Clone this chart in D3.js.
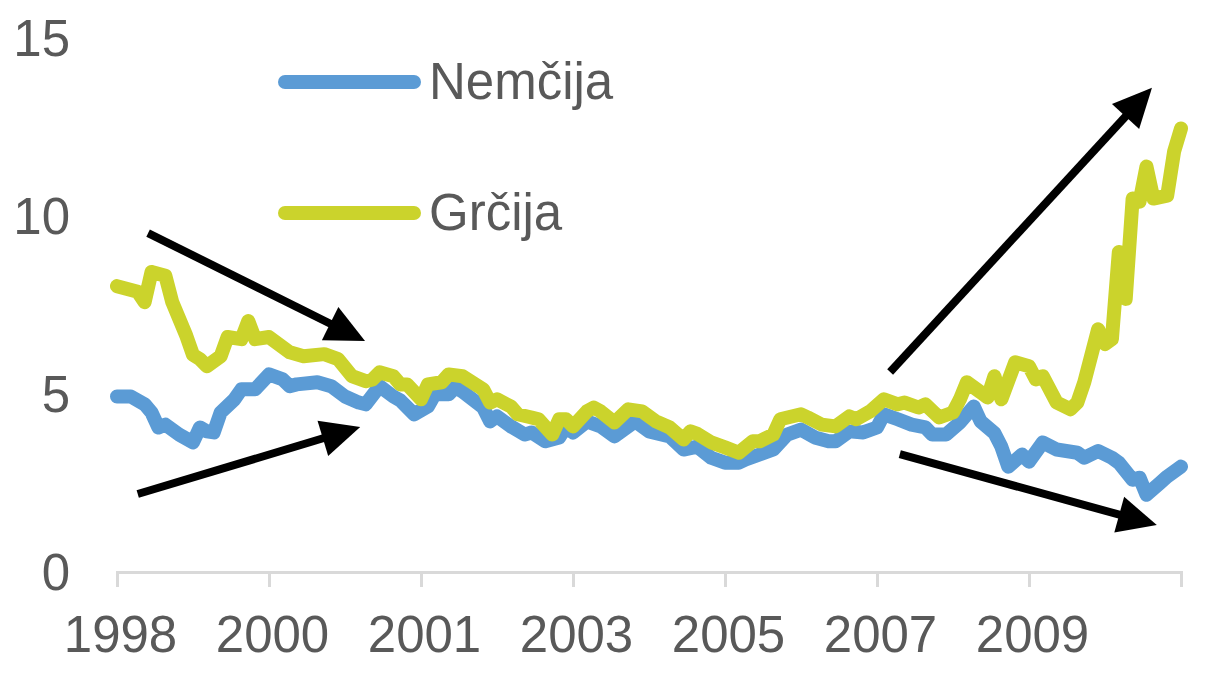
<!DOCTYPE html>
<html>
<head>
<meta charset="utf-8">
<script src="https://cdn.jsdelivr.net/npm/d3@7"></script>
<style>
  html, body { margin: 0; padding: 0; background: #fff; }
  svg { display: block; font-family: "Liberation Sans", Arial, sans-serif; }
</style>
</head>
<body>
<div id="chart"></div>
<script>
// x axis: month index (0 .. 154), labels every 22 months
let xTicks = [0, 22, 44, 66, 88, 110, 132, 154];
let xTickLabels = ["1998", "2000", "2001", "2003", "2005", "2007", "2009", ""];
let yTicks = [0, 5, 10, 15];

// [month, value]
let nemcija = [[0,4.93],[2,4.93],[4,4.71],[5,4.48],[6,4.06],[7,4.14],[9,3.86],[11,3.64],[12,4.06],[13,3.95],[14,3.92],[15,4.48],[17,4.85],[18,5.13],[20,5.13],[22,5.55],[24,5.41],[25,5.22],[26,5.27],[29,5.33],[31,5.22],[33,4.93],[35,4.76],[36,4.71],[38,5.22],[40,4.93],[41,4.82],[43,4.43],[45,4.65],[46,4.99],[48,4.99],[49,5.19],[50,5.07],[53,4.62],[54,4.23],[55,4.37],[57,4.09],[59,3.86],[60,3.92],[62,3.67],[64,3.78],[65,4.09],[66,3.92],[68,4.23],[70,4.09],[72,3.81],[75,4.23],[77,3.95],[80,3.81],[82,3.44],[84,3.52],[86,3.21],[88,3.07],[90,3.07],[91,3.16],[93,3.3],[95,3.44],[97,3.86],[99,4.0],[101,3.78],[103,3.67],[104,3.67],[106,3.95],[108,3.92],[110,4.06],[111,4.43],[113,4.29],[115,4.14],[117,4.06],[118,3.86],[120,3.86],[122,4.2],[124,4.65],[125,4.23],[127,3.9],[128,3.52],[129,2.96],[131,3.3],[132,3.1],[134,3.64],[136,3.44],[139,3.35],[140,3.21],[142,3.4],[144,3.21],[145,3.07],[147,2.59],[148,2.65],[149,2.17],[151,2.51],[152,2.68],[154,2.96]];

let grcija = [[0,8.03],[3,7.87],[4,7.58],[5,8.43],[7,8.32],[8,7.58],[10,6.65],[11,6.1],[12,5.98],[13,5.78],[15,6.06],[16,6.6],[18,6.54],[19,7.05],[20,6.54],[22,6.6],[25,6.17],[27,6.06],[30,6.12],[32,5.98],[34,5.5],[36,5.36],[37,5.41],[38,5.61],[40,5.5],[41,5.27],[42,5.27],[44,4.85],[45,5.27],[47,5.33],[48,5.55],[50,5.5],[53,5.13],[54,4.76],[55,4.85],[57,4.65],[58,4.43],[60,4.34],[61,4.29],[63,3.86],[64,4.29],[65,4.29],[66,4.09],[68,4.51],[69,4.62],[70,4.51],[72,4.2],[74,4.57],[76,4.51],[78,4.23],[80,4.06],[82,3.72],[83,3.95],[84,3.88],[86,3.64],[88,3.5],[90,3.35],[92,3.67],[93,3.67],[95,3.86],[96,4.29],[99,4.43],[100,4.34],[102,4.14],[104,4.09],[106,4.37],[107,4.29],[109,4.51],[111,4.85],[113,4.71],[114,4.76],[116,4.62],[117,4.71],[119,4.34],[121,4.48],[122,4.85],[123,5.33],[125,5.05],[126,4.9],[127,5.5],[128,4.85],[130,5.89],[132,5.78],[133,5.41],[134,5.5],[136,4.76],[138,4.57],[139,4.76],[140,5.33],[142,6.82],[143,6.4],[144,6.54],[145,8.99],[146,7.67],[147,10.49],[148,10.4],[149,11.39],[150,10.49],[152,10.57],[153,11.81],[154,12.46]];

let seriesNames = ["Nemčija", "Grčija"];
let seriesColors = ["#5b9bd5", "#cbd32c"];

// annotation arrows, [month, value] -> [month, value]
let arrows = [
  [[4.5, 9.52], [35.9, 6.49]],
  [[3.0, 2.19], [35.2, 4.07]],
  [[111.9, 5.62], [149.8, 13.6]],
  [[113.3, 3.31], [150.5, 1.32]]
];

let width = 1219, height = 675;
let margin = { top: 38, right: 38, bottom: 103, left: 117 };
let textColor = "#595959";

let svg = d3.select("#chart").append("svg")
  .attr("width", width)
  .attr("height", height);

let x = d3.scaleLinear()
  .domain([0, 154])
  .range([margin.left, width - margin.right]);

let y = d3.scaleLinear()
  .domain([0, 15])
  .range([height - margin.bottom, margin.top]);

// x axis
let xAxis = d3.axisBottom(x)
  .tickValues(xTicks)
  .tickSize(15)
  .tickFormat((d, i) => xTickLabels[i]);

let gx = svg.append("g")
  .attr("transform", "translate(0," + y(0) + ")")
  .call(xAxis);
gx.select(".domain").attr("stroke", "#d9d9d9").attr("stroke-width", 3);
gx.selectAll(".tick line").attr("stroke", "#d9d9d9").attr("stroke-width", 3);
gx.selectAll(".tick text")
  .attr("fill", textColor)
  .attr("font-size", "51px")
  .attr("font-family", "Liberation Sans, Arial, sans-serif")
  .attr("y", 0)
  .attr("dy", 80)
  .attr("dx", 3);

// y labels, no axis line
svg.append("g").selectAll("text")
  .data(yTicks)
  .enter().append("text")
  .attr("x", 70)
  .attr("y", d => y(d))
  .attr("dy", "0.35em")
  .attr("text-anchor", "end")
  .attr("fill", textColor)
  .attr("font-size", "51px")
  .text(d => d);

let line = d3.line()
  .x(d => x(d[0]))
  .y(d => y(d[1]));

// germany first so greece sits on top
[nemcija, grcija].forEach((data, i) => {
  svg.append("path")
    .datum(data)
    .attr("fill", "none")
    .attr("stroke", seriesColors[i])
    .attr("stroke-width", 14)
    .attr("stroke-linejoin", "round")
    .attr("stroke-linecap", "round")
    .attr("d", line);
});

// arrows
let headLen = 39, headW = 37;
arrows.forEach(a => {
  let x1 = x(a[0][0]), y1 = y(a[0][1]);
  let x2 = x(a[1][0]), y2 = y(a[1][1]);
  let len = Math.hypot(x2 - x1, y2 - y1);
  let ux = (x2 - x1) / len, uy = (y2 - y1) / len;
  let bx = x2 - ux * headLen, by = y2 - uy * headLen;
  svg.append("line")
    .attr("x1", x1).attr("y1", y1)
    .attr("x2", bx + ux * 2).attr("y2", by + uy * 2)
    .attr("stroke", "#000")
    .attr("stroke-width", 8);
  svg.append("polygon")
    .attr("points", [
      [x2, y2],
      [bx - uy * headW / 2, by + ux * headW / 2],
      [bx + uy * headW / 2, by - ux * headW / 2]
    ].map(p => p.join(",")).join(" "))
    .attr("fill", "#000");
});

// legend
let legend = svg.append("g");
let legendY = [82, 213];
seriesNames.forEach((name, i) => {
  legend.append("line")
    .attr("x1", 285).attr("x2", 414)
    .attr("y1", legendY[i]).attr("y2", legendY[i])
    .attr("stroke", seriesColors[i])
    .attr("stroke-width", 14)
    .attr("stroke-linecap", "round");
  legend.append("text")
    .attr("x", 429)
    .attr("y", legendY[i] + 17)
    .attr("fill", textColor)
    .attr("font-size", "51px")
    .text(name);
});
</script>
</body>
</html>
